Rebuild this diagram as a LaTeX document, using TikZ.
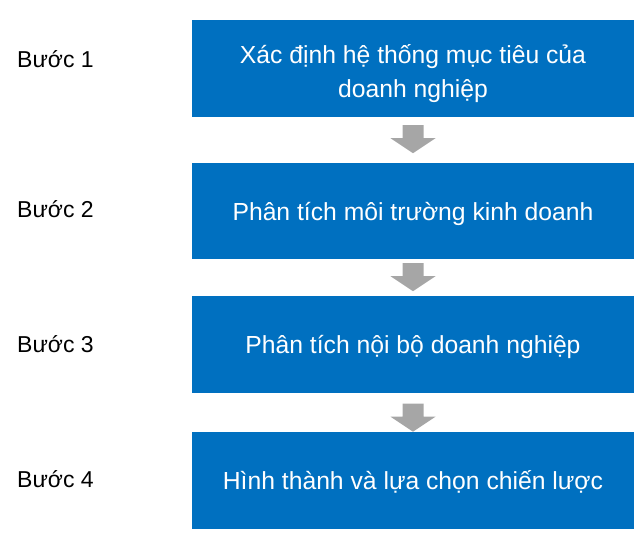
\documentclass[tikz,border=0pt]{standalone}
\usepackage{fontspec}
\setmainfont{Liberation Sans}
\usetikzlibrary{calc}
\definecolor{boxblue}{HTML}{0070C0}
\definecolor{arrowgray}{HTML}{A6A6A6}
\tikzset{
  stepbox/.style={rectangle, fill=boxblue, text=white, inner sep=0pt,
    minimum width=442pt, minimum height=97pt, align=center,
    font=\fontsize{24.7}{34}\selectfont},
  steplabel/.style={anchor=base west, inner sep=0pt, text=black,
    font=\fontsize{23}{28}\selectfont},
  blockarrow/.pic={\fill[arrowgray] (-10.5,0) -- (10.5,0) -- (10.5,13) -- (22.5,13)
    -- (0,28) -- (-22.5,13) -- (-10.5,13) -- cycle;}
}
\begin{document}
\begin{tikzpicture}[x=1pt,y=-1pt]
\useasboundingbox (0,0) rectangle (640,544);
\node[stepbox] (b1) at (413,68.5) {\rule{0pt}{29pt}Xác định hệ thống mục tiêu của\\doanh nghiệp};
\node[stepbox, minimum height=96pt, text height=18pt, text depth=0pt] (b2) at (413,211) {Phân tích môi trường kinh doanh};
\node[stepbox, text height=18pt, text depth=0pt] (b3) at (413,344.5) {Phân tích nội bộ doanh nghiệp};
\node[stepbox, text height=18pt, text depth=0pt] (b4) at (413,480.5) {Hình thành và lựa chọn chiến lược};
\node[steplabel] (l1) at (17,67) {Bước 1};
\node[steplabel] (l2) at (17,217) {Bước 2};
\node[steplabel] (l3) at (17,352) {Bước 3};
\node[steplabel] (l4) at (17,487) {Bước 4};
\pic at ($(b1.south)+(0,8)$) {blockarrow};
\pic at ($(b2.south)+(0,4)$) {blockarrow};
\pic at ($(b3.south)+(0,10.5)$) {blockarrow};
\end{tikzpicture}
\end{document}
